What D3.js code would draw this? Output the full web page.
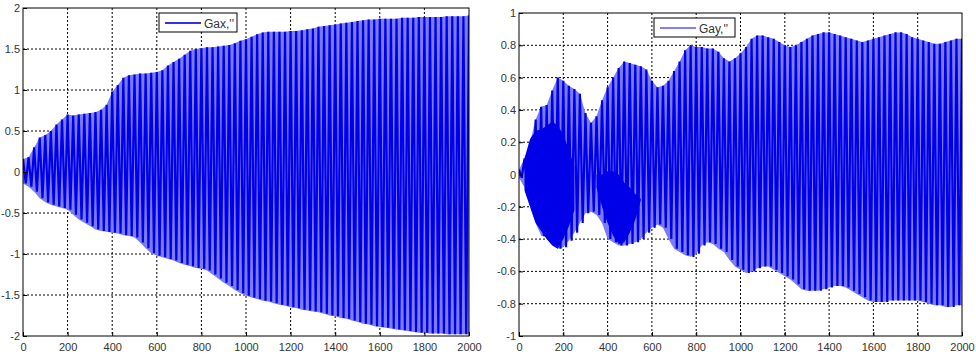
<!DOCTYPE html>
<html lang="en">
<head>
<meta charset="utf-8">
<title>Gax / Gay</title>
<script src="https://d3js.org/d3.v7.min.js"></script>
<style>
  body { margin: 0; background: #fff; }
  svg { display: block; font-family: "Liberation Sans", Arial, sans-serif; }
  .grid line { stroke: #000; stroke-width: 1; stroke-dasharray: 2,2; }
  .tick text { font-size: 11px; fill: #333; }
  .tick line { stroke: #000; }
</style>
</head>
<body>
<div id="main"></div>
<script>
// sample spacing of the envelope readings (x = 0, 25, ..., 2000)
const step = 25;
const xTicks = [0, 200, 400, 600, 800, 1000, 1200, 1400, 1600, 1800, 2000];

// Gax, '' : upper / lower peaks of the oscillation
const gaxUpper = [
  0.16, 0.18, 0.3, 0.42, 0.45, 0.5, 0.58, 0.64, 0.7, 0.69,
  0.7, 0.71, 0.72, 0.73, 0.76, 0.82, 0.98, 1.06, 1.15, 1.18,
  1.19, 1.2, 1.2, 1.21, 1.22, 1.24, 1.3, 1.34, 1.38, 1.43,
  1.48, 1.5, 1.51, 1.52, 1.52, 1.53, 1.54, 1.55, 1.57, 1.6,
  1.62, 1.65, 1.68, 1.7, 1.71, 1.71, 1.71, 1.71, 1.72, 1.72,
  1.73, 1.74, 1.75, 1.77, 1.78, 1.79, 1.8, 1.81, 1.82, 1.83,
  1.84, 1.85, 1.86, 1.86, 1.87, 1.87, 1.87, 1.87, 1.88, 1.88,
  1.88, 1.89, 1.89, 1.89, 1.89, 1.89, 1.9, 1.9, 1.9, 1.9,
  1.91
];
const gaxLower = [
  -0.14, -0.18, -0.24, -0.32, -0.37, -0.4, -0.42, -0.44, -0.46, -0.52,
  -0.58, -0.62, -0.66, -0.7, -0.72, -0.73, -0.74, -0.75, -0.77, -0.78,
  -0.8, -0.86, -0.93, -0.99, -1.02, -1.04, -1.06, -1.08, -1.11, -1.13,
  -1.15, -1.17, -1.18, -1.2, -1.25, -1.3, -1.35, -1.39, -1.44, -1.48,
  -1.51, -1.53, -1.55, -1.57, -1.58, -1.6, -1.62, -1.63, -1.65, -1.66,
  -1.68, -1.69, -1.7, -1.71, -1.73, -1.75, -1.76, -1.78, -1.79, -1.81,
  -1.83, -1.85, -1.86, -1.88, -1.89, -1.9, -1.91, -1.92, -1.93, -1.94,
  -1.95, -1.96, -1.96, -1.97, -1.97, -1.97, -1.98, -1.98, -1.98, -1.98,
  -1.98
];

// Gay, ''
const gayUpper = [
  0.03, 0.1, 0.2, 0.34, 0.42, 0.43, 0.52, 0.6, 0.58, 0.55,
  0.53, 0.5, 0.38, 0.32, 0.36, 0.46, 0.54, 0.6, 0.66, 0.7,
  0.69, 0.68, 0.67, 0.65, 0.58, 0.54, 0.55, 0.58, 0.64, 0.7,
  0.77, 0.8, 0.79, 0.79, 0.78, 0.78, 0.76, 0.72, 0.7, 0.72,
  0.75, 0.79, 0.84, 0.86, 0.86, 0.85, 0.84, 0.82, 0.8, 0.79,
  0.8, 0.82, 0.84, 0.86, 0.87, 0.88, 0.88, 0.87, 0.86, 0.85,
  0.84, 0.83, 0.82, 0.83, 0.84, 0.85, 0.86, 0.87, 0.88, 0.88,
  0.87, 0.85, 0.84, 0.83, 0.82, 0.81, 0.81, 0.82, 0.83, 0.84,
  0.84
];
const gayLower = [
  -0.02, -0.08, -0.2, -0.3, -0.38, -0.39, -0.4, -0.46, -0.45, -0.41,
  -0.36, -0.3, -0.24, -0.23, -0.25, -0.3, -0.4, -0.42, -0.44, -0.44,
  -0.43, -0.42, -0.4, -0.36, -0.33, -0.31, -0.33, -0.4, -0.46, -0.48,
  -0.5, -0.51, -0.49, -0.44, -0.42, -0.43, -0.46, -0.48, -0.53, -0.57,
  -0.59, -0.61, -0.6, -0.58, -0.57, -0.57, -0.59, -0.61, -0.63, -0.65,
  -0.68, -0.71, -0.72, -0.72, -0.72, -0.71, -0.7, -0.69, -0.69, -0.7,
  -0.72, -0.74, -0.76, -0.78, -0.79, -0.79, -0.79, -0.78, -0.78, -0.78,
  -0.78, -0.78, -0.78, -0.79, -0.8, -0.81, -0.81, -0.82, -0.82, -0.81,
  -0.81
];
// dense dark core of Gay (two bursts), null = no core
const gayCoreUpper = [
  null, 0.1, 0.22, 0.27, 0.28, 0.3, 0.33, 0.3, 0.25, 0.15,
  0.05, null, null, null, 0.0, 0.0, 0.02, 0.02, 0.0, -0.05,
  -0.08, -0.12, -0.15, null
];
const gayCoreLower = [
  null, -0.1, -0.2, -0.3, -0.35, -0.4, -0.44, -0.46, -0.4, -0.32,
  -0.22, null, null, null, -0.08, -0.2, -0.3, -0.38, -0.43, -0.42,
  -0.36, -0.28, -0.16, null
];

const W = 976, H = 360;
const svg = d3.select('#main').append('svg').attr('width', W).attr('height', H);

const blueDark = '#0000e8';
const blueLight = '#7c7cf2';

function drawPanel(p) {
  const x = d3.scaleLinear().domain([0, 2000]).range([p.left, p.right]);
  const y = d3.scaleLinear().domain(p.yDomain).range([p.bottom, p.top]);
  const g = svg.append('g');

  g.append('clipPath').attr('id', p.id + 'clip')
    .append('rect')
    .attr('x', p.left).attr('y', p.top)
    .attr('width', p.right - p.left).attr('height', p.bottom - p.top);

  // grid
  const grid = g.append('g').attr('class', 'grid');
  grid.selectAll('.vx').data(xTicks.slice(1, -1)).enter().append('line')
    .attr('x1', d => x(d)).attr('x2', d => x(d))
    .attr('y1', p.top).attr('y2', p.bottom);
  grid.selectAll('.hy').data(p.yTicks.slice(1, -1)).enter().append('line')
    .attr('x1', p.left).attr('x2', p.right)
    .attr('y1', d => y(d)).attr('y2', d => y(d));

  const plot = g.append('g').attr('clip-path', `url(#${p.id}clip)`);

  // light envelope band
  const env = p.upper.map((u, i) => ({ x: i * step, u: u, l: p.lower[i] }));
  plot.append('path')
    .datum(env)
    .attr('fill', blueLight)
    .attr('d', d3.area().x(d => x(d.x)).y0(d => y(d.l)).y1(d => y(d.u)));

  // dark core bursts
  if (p.coreUpper) {
    const core = p.coreUpper.map((u, i) => ({ x: i * step, u: u, l: p.coreLower[i] }));
    plot.append('path')
      .datum(core)
      .attr('fill', blueDark)
      .attr('d', d3.area().defined(d => d.u !== null)
        .x(d => x(d.x)).y0(d => y(d.l)).y1(d => y(d.u)));
  }

  // oscillation: alternate upper and lower peaks
  const pts = [];
  p.upper.forEach((u, i) => {
    pts.push([i * step, u]);
    if (i < p.upper.length - 1) pts.push([i * step + step / 2, p.lower[i]]);
  });
  plot.append('path')
    .datum(pts)
    .attr('fill', 'none')
    .attr('stroke', blueDark)
    .attr('stroke-width', 2.2)
    .attr('d', d3.line().x(d => x(d[0])).y(d => y(d[1])));

  // axes
  const xAxis = d3.axisBottom(x).tickValues(xTicks).tickSize(-4).tickPadding(7)
    .tickFormat(d3.format('d'));
  g.append('g').attr('transform', `translate(0,${p.bottom})`).call(xAxis)
    .call(a => a.select('.domain').remove());
  const yAxis = d3.axisLeft(y).tickValues(p.yTicks).tickSize(-4).tickPadding(3)
    .tickFormat(d => String(d));
  g.append('g').attr('transform', `translate(${p.left},0)`).call(yAxis)
    .call(a => a.select('.domain').remove());

  // frame
  g.append('rect')
    .attr('x', p.left).attr('y', p.top)
    .attr('width', p.right - p.left).attr('height', p.bottom - p.top)
    .attr('fill', 'none').attr('stroke', '#000').attr('stroke-width', 1);

  // legend
  const lg = g.append('g').attr('transform', `translate(${p.legend[0]},${p.legend[1]})`);
  lg.append('rect').attr('width', p.legend[2]).attr('height', 19)
    .attr('fill', '#fff').attr('stroke', '#000');
  lg.append('line').attr('x1', 6).attr('x2', 42).attr('y1', 10).attr('y2', 10)
    .attr('stroke', p.legendColor).attr('stroke-width', p.legendWidth);
  lg.append('text').attr('x', 45).attr('y', 14.5)
    .attr('font-size', 12).attr('fill', '#333').text(p.label);
}

drawPanel({
  id: 'gax', left: 23, right: 469, top: 8, bottom: 336,
  yDomain: [-2, 2], yTicks: [-2, -1.5, -1, -0.5, 0, 0.5, 1, 1.5, 2],
  upper: gaxUpper, lower: gaxLower,
  legend: [159, 13, 78], label: "Gax,''", legendColor: '#3030f0', legendWidth: 2
});

drawPanel({
  id: 'gay', left: 519, right: 962, top: 13, bottom: 336,
  yDomain: [-1, 1], yTicks: [-1, -0.8, -0.6, -0.4, -0.2, 0, 0.2, 0.4, 0.6, 0.8, 1],
  upper: gayUpper, lower: gayLower,
  coreUpper: gayCoreUpper, coreLower: gayCoreLower,
  legend: [654, 18, 81], label: "Gay,''", legendColor: '#0000ff', legendWidth: 1
});
</script>
</body>
</html>
